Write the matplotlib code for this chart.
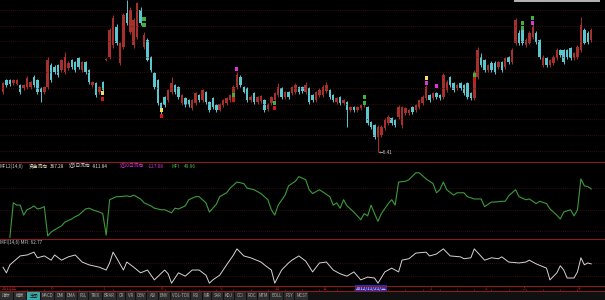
import numpy as np
import matplotlib
matplotlib.use("Agg")
import matplotlib.pyplot as plt
from matplotlib.lines import Line2D
from matplotlib.patches import Rectangle

plt.rcParams['font.family'] = ['Noto Sans CJK SC', 'DejaVu Sans']

# daily candles (price)
opens = [7.61, 7.85, 7.85, 7.79, 7.78, 7.75, 7.69, 7.71, 7.71, 7.91, 7.85, 7.69, 7.61, 7.71, 8.15, 8.11, 8.15, 8.05, 8.01, 8.09,
         8.25, 8.21, 8.29, 8.05, 8.21, 8.05, 7.75, 7.79, 7.61, 7.81, 8.25, 8.31, 8.55, 8.91, 8.19, 8.51, 9.19, 8.81, 8.55, 8.71,
         9.25, 8.51, 8.65, 8.31, 7.99, 7.85, 7.39, 7.51, 7.45, 7.61, 7.75, 7.71, 7.39, 7.49, 7.45, 7.29, 7.39, 7.55, 7.45, 7.61,
         7.41, 7.49, 7.35, 7.26, 7.35, 7.39, 7.45, 7.45, 7.71, 7.92, 7.72, 7.69, 7.45, 7.59, 7.41, 7.43, 7.45, 7.27, 7.39, 7.45,
         7.55, 7.69, 7.51, 7.61, 7.59, 7.61, 7.71, 7.71, 7.61, 7.69, 7.55, 7.45, 7.55, 7.55, 7.63, 7.65, 7.55, 7.41, 7.51, 7.39,
         7.41, 7.25, 7.31, 7.25, 7.29, 7.35, 7.31, 7.01, 6.95, 6.71, 6.75, 6.89, 6.99, 7.09, 7.05, 7.11, 6.95, 7.19, 7.19, 7.31,
         7.25, 7.31, 7.39, 7.49, 7.55, 7.49, 7.59, 7.55, 7.51, 7.65, 7.91, 7.79, 7.69, 7.79, 7.75, 7.79, 7.59, 7.49, 7.91, 8.31,
         8.25, 8.05, 8.19, 8.19, 8.11, 8.21, 8.11, 8.31, 8.21, 8.59, 8.79, 8.85, 8.55, 8.59, 8.71, 8.79, 8.65, 8.15, 8.29, 8.15,
         8.19, 8.29, 8.45, 8.45, 8.45, 8.49, 8.29, 8.31, 8.45, 8.85, 8.79, 8.65]
closes = [7.79, 7.75, 7.77, 7.85, 7.85, 7.61, 7.75, 7.89, 7.81, 7.75, 7.61, 7.61, 7.71, 8.25, 7.85, 8.01, 7.95, 8.25, 8.31, 8.19,
          8.11, 8.05, 8.11, 8.21, 8.01, 7.81, 7.81, 7.55, 7.71, 7.65, 8.27, 8.85, 9.09, 8.59, 8.59, 9.15, 8.99, 9.25, 9.05, 9.39,
          8.99, 8.75, 8.25, 8.05, 7.71, 7.39, 7.21, 7.35, 7.65, 7.79, 7.61, 7.51, 7.55, 7.35, 7.35, 7.45, 7.59, 7.45, 7.65, 7.41,
          7.25, 7.31, 7.25, 7.36, 7.45, 7.49, 7.55, 7.71, 7.95, 7.75, 7.62, 7.45, 7.51, 7.41, 7.51, 7.53, 7.25, 7.37, 7.51, 7.59,
          7.71, 7.51, 7.61, 7.51, 7.71, 7.75, 7.61, 7.63, 7.75, 7.41, 7.45, 7.61, 7.65, 7.71, 7.75, 7.51, 7.45, 7.49, 7.39, 7.45,
          7.25, 7.31, 7.25, 7.31, 7.35, 7.41, 6.99, 6.91, 6.71, 6.91, 6.91, 7.05, 7.11, 6.99, 6.95, 7.31, 7.31, 7.29, 7.25, 7.21,
          7.35, 7.45, 7.51, 7.71, 7.45, 7.59, 7.51, 7.49, 7.95, 7.81, 7.75, 7.65, 7.75, 7.69, 7.59, 7.51, 7.49, 8.01, 8.45, 8.15,
          8.05, 8.15, 8.05, 8.01, 8.21, 8.05, 8.29, 8.21, 8.45, 9.05, 8.59, 8.59, 8.65, 8.79, 8.91, 8.61, 8.31, 8.31, 8.15, 8.25,
          8.31, 8.45, 8.35, 8.21, 8.31, 8.29, 8.39, 8.51, 8.95, 8.59, 8.61, 8.85]
highs = [7.82, 7.88, 7.88, 7.88, 7.88, 7.78, 7.78, 7.93, 7.84, 7.95, 7.88, 7.72, 7.74, 8.30, 8.20, 8.14, 8.18, 8.28, 8.41, 8.22,
         8.28, 8.24, 8.32, 8.24, 8.24, 8.08, 7.84, 7.82, 7.74, 7.84, 8.29, 8.90, 9.15, 8.96, 8.62, 9.20, 9.45, 9.30, 9.10, 9.42,
         9.30, 8.80, 8.70, 8.34, 8.02, 7.88, 7.42, 7.54, 7.68, 7.92, 7.78, 7.74, 7.58, 7.52, 7.48, 7.48, 7.62, 7.58, 7.68, 7.64,
         7.43, 7.52, 7.38, 7.40, 7.48, 7.52, 7.58, 7.75, 8.02, 7.96, 7.74, 7.72, 7.55, 7.62, 7.54, 7.56, 7.48, 7.40, 7.54, 7.62,
         7.80, 7.72, 7.64, 7.64, 7.74, 7.80, 7.74, 7.74, 7.82, 7.72, 7.58, 7.64, 7.70, 7.76, 7.82, 7.68, 7.58, 7.52, 7.54, 7.48,
         7.44, 7.34, 7.34, 7.34, 7.38, 7.46, 7.34, 7.04, 6.98, 6.95, 6.96, 7.10, 7.16, 7.12, 7.08, 7.35, 7.33, 7.32, 7.28, 7.34,
         7.38, 7.48, 7.55, 7.76, 7.58, 7.62, 7.62, 7.58, 8.00, 7.86, 7.94, 7.82, 7.78, 7.82, 7.78, 7.82, 7.62, 8.06, 8.52, 8.40,
         8.28, 8.18, 8.22, 8.22, 8.24, 8.24, 8.32, 8.34, 8.50, 9.10, 8.85, 8.90, 8.70, 8.84, 8.98, 8.84, 8.68, 8.35, 8.32, 8.28,
         8.35, 8.50, 8.48, 8.48, 8.48, 8.52, 8.42, 8.55, 9.11, 8.90, 8.84, 8.90]
lows = [7.58, 7.72, 7.74, 7.76, 7.75, 7.58, 7.66, 7.68, 7.68, 7.72, 7.58, 7.41, 7.58, 7.68, 7.82, 7.98, 7.92, 8.02, 7.98, 8.06,
        8.08, 8.02, 8.08, 8.02, 7.98, 7.78, 7.72, 7.52, 7.58, 7.62, 8.23, 8.28, 8.50, 8.55, 8.15, 8.48, 8.95, 8.78, 8.50, 8.68,
        8.95, 8.48, 8.22, 8.02, 7.68, 7.36, 7.18, 7.32, 7.42, 7.58, 7.58, 7.48, 7.36, 7.32, 7.32, 7.26, 7.36, 7.42, 7.42, 7.38,
        7.22, 7.28, 7.22, 7.24, 7.32, 7.36, 7.42, 7.42, 7.68, 7.72, 7.60, 7.42, 7.42, 7.38, 7.38, 7.40, 7.22, 7.24, 7.36, 7.42,
        7.52, 7.48, 7.48, 7.48, 7.56, 7.58, 7.58, 7.60, 7.58, 7.38, 7.42, 7.42, 7.52, 7.52, 7.60, 7.48, 7.42, 7.38, 7.36, 7.36,
        6.91, 7.22, 7.22, 7.22, 7.26, 7.32, 6.96, 6.88, 6.68, 6.41, 6.72, 6.86, 6.96, 6.96, 6.92, 7.08, 6.90, 7.16, 7.16, 7.18,
        7.22, 7.28, 7.36, 7.46, 7.42, 7.46, 7.48, 7.46, 7.48, 7.62, 7.72, 7.62, 7.66, 7.66, 7.56, 7.48, 7.46, 7.46, 7.88, 8.12,
        8.02, 8.02, 8.02, 7.98, 8.08, 8.02, 8.08, 8.18, 8.18, 8.55, 8.55, 8.55, 8.52, 8.56, 8.68, 8.58, 8.28, 8.12, 8.12, 8.12,
        8.16, 8.26, 8.32, 8.18, 8.28, 8.26, 8.26, 8.28, 8.42, 8.56, 8.58, 8.62]

grid_prices = [9.25, 8.93, 8.63, 8.31, 8.01, 7.69, 7.37, 7.07, 6.75, 6.43]

# signal dots on the main chart
sig_day = [29, 29, 46, 46, 41, 41, 67, 67, 68, 79, 79, 105, 105, 123, 123, 126, 137, 137, 151, 151, 154, 154]
sig_price = [7.59, 7.47, 7.25, 7.13, 9.07, 8.95, 7.55, 7.45, 8.07, 7.39, 7.29, 7.51, 7.39, 7.89, 7.79, 7.73,
             7.95, 7.85, 8.99, 8.89, 9.09, 8.99]
sig_kind = ['y', 'r', 'y', 'r', 'g', 'g', 'g', 'r', 'm', 'g', 'r', 'g', 'g', 'y', 'm', 'm', 'g', 'r', 'g', 'g', 'g', 'm']

# MFL2 indicator
mfl_day = [2, 3, 4, 5, 6, 7, 8, 9, 10, 11, 12, 13, 14, 15, 17, 18, 20, 21, 22, 24, 25, 26, 28, 29, 30, 31, 33, 34, 36, 37,
           38, 40, 41, 43, 44, 46, 47, 49, 50, 51, 53, 54, 56, 57, 59, 60, 62, 63, 65, 66, 68, 70, 71, 73, 75, 77, 78, 79, 80, 82,
           83, 85, 86, 88, 89, 90, 92, 93, 95, 96, 97, 98, 99, 100, 102, 103, 104, 105, 106, 107, 108, 109, 110, 112, 113, 114, 115, 117, 118, 120,
           121, 123, 124, 125, 126, 127, 128, 129, 131, 132, 134, 135, 137, 139, 140, 142, 143, 145, 146, 147, 149, 150, 152, 153, 155, 156, 158, 159, 161, 162,
           163, 165, 166, 167, 168, 169, 170, 171]
mfl_val = [2, 47, 44, 44, 31, 38, 40, 43, 39, 40, 42, 4, 9, 12, 17, 22, 26, 29, 31, 39, 40, 38, 35, 33, 5, 51, 55, 55, 56, 55,
           57, 52, 47, 43, 40, 38, 38, 34, 40, 39, 43, 51, 55, 55, 47, 35, 45, 55, 60, 66, 74, 72, 66, 64, 59, 51, 38, 31, 44, 57,
           69, 75, 81, 77, 64, 59, 64, 61, 55, 44, 47, 40, 51, 43, 35, 30, 25, 33, 30, 44, 33, 23, 33, 46, 51, 44, 74, 75, 77, 86,
           86, 78, 75, 72, 60, 64, 74, 64, 57, 60, 60, 55, 52, 52, 42, 48, 48, 49, 49, 56, 64, 55, 51, 52, 46, 49, 46, 39, 31, 26,
           35, 38, 30, 38, 78, 69, 68, 65]
mfl_grid = [66, 38, 10]

# MFI indicator
mfi_day = [0, 1, 2, 5, 7, 9, 10, 12, 14, 15, 17, 19, 21, 23, 25, 28, 30, 31, 32, 33, 35, 36, 38, 40, 42, 44, 47, 48, 49, 51,
           53, 55, 57, 59, 60, 61, 63, 65, 67, 68, 70, 72, 75, 76, 78, 79, 81, 83, 84, 86, 88, 90, 92, 94, 96, 98, 100, 102, 104, 106,
           108, 109, 111, 113, 115, 116, 118, 120, 123, 124, 126, 128, 130, 133, 134, 136, 137, 140, 142, 144, 145, 147, 150, 152, 153, 155, 158, 159, 161, 162,
           163, 164, 166, 167, 168, 169, 170, 171]
mfi_val = [40, 28, 45, 64, 66, 72, 60, 64, 55, 66, 55, 62, 66, 51, 45, 40, 34, 49, 72, 60, 34, 51, 40, 28, 34, 13, 34, 26, 6, 28,
           21, 34, 34, 23, 6, 13, 23, 45, 66, 79, 64, 60, 51, 45, 34, 6, 34, 49, 55, 64, 53, 30, 49, 51, 34, 26, 21, 30, 13, 19,
           17, 6, 30, 38, 30, 55, 58, 70, 72, 64, 68, 79, 64, 62, 58, 60, 79, 55, 60, 58, 62, 51, 49, 51, 55, 47, 38, 13, 28, 43,
           34, 17, 17, 30, 60, 45, 49, 47]
mfi_grid = [49, 21]

# date axis
month_days = [14, 29, 46, 63, 79, 93, 124, 140, 151, 167]
month_labels = ['6', '7', '8', '9', '10', '11', '1', '2', '3', '4']
cursor_day = 107
cursor_label = '2012/11/21/三'

tab_labels = ['指标', '模板', '主图', 'MACD', 'DMI', 'DMA', 'FSL', 'TRIX', 'BRAR', 'CR', 'VR', 'OBV', 'ASI', 'EMV',
              'VOL-TDX', 'RSI', 'WR', 'SAR', 'KDJ', 'CCI', 'ROC', 'MTM', 'BOLL', 'PSY', 'MCST']

UP = '#a8302c'
DOWN = '#5cc6cf'
GRID = '#4e0f0f'
SEP = '#8c1c1c'
W, H = 605, 300
XL = (-0.87, 175.0)

fig = plt.figure(figsize=(6.05, 3.0), dpi=100, facecolor='black')

def panel(top, bottom):
    ax = fig.add_axes([0, 1 - bottom / H, 1, (bottom - top) / H])
    ax.set_facecolor('black')
    ax.set_xlim(*XL)
    ax.axis('off')
    return ax

# ---- main candle chart
ax1 = panel(0, 162)
ax1.set_ylim(6.21, 9.45)
ax1.hlines(grid_prices, XL[0], XL[1], colors=GRID, linestyles=(0, (1, 1.5)), linewidth=0.6)
o = np.array(opens)
c = np.array(closes)
days = np.arange(len(o))
col = np.where(c >= o, UP, DOWN)
ax1.vlines(days, lows, highs, colors=col, linewidth=0.7)
ax1.bar(days, np.maximum(np.abs(c - o), 0.02), bottom=np.minimum(o, c), width=0.72, color=col, linewidth=0)
kind_color = {'y': '#f0e060', 'r': '#d01818', 'g': '#3cb43c', 'm': '#e030e0'}
ax1.scatter(sig_day, sig_price, c=[kind_color[k] for k in sig_kind], marker='s', s=5, linewidths=0, zorder=3)
low_i = int(np.argmin(lows))
ax1.text(low_i + 0.2, lows[low_i], '←%.2f' % lows[low_i], color='#c8c8c8', fontsize=3.4, va='center', ha='left')
ax1.add_patch(Rectangle((148.5, 9.415), 25, 0.04, color='#b0b0b0', lw=0))

# ---- MFL2 panel
ax2 = panel(162, 239)
ax2.set_ylim(0, 100)
ax2.hlines(mfl_grid, XL[0], XL[1], colors=GRID, linestyles=(0, (1, 1.5)), linewidth=0.6)
ax2.plot(mfl_day, mfl_val, color='#3c9c3c', linewidth=0.8)
hdr = [(0, 'MFL2(14,6)', '#c8c8c8'), (29, '资金流向', '#e6e6c8'), (50, '367.28', '#e6e6c8'),
       (69, '近5日流向', '#d8d8d8'), (92, '-911.84', '#d8d8d8'),
       (120, '近10日流向', '#d838d8'), (148, '-127.08', '#d838d8'),
       (172, 'MFI', '#44c044'), (184, '49.96', '#44c044')]
for xp, s, cc in hdr:
    fig.text(xp / W, 1 - 166 / H, s, color=cc, fontsize=3.4, va='center', ha='left')

# ---- MFI panel
ax3 = panel(239, 286)
ax3.set_ylim(0, 100)
ax3.hlines(mfi_grid, XL[0], XL[1], colors=GRID, linestyles=(0, (1, 1.5)), linewidth=0.6)
ax3.plot(mfi_day, mfi_val, color='#d4d4d4', linewidth=0.7)
fig.text(0, 1 - 242.5 / H, 'MFI(14,6) MFI: 62.77', color='#c8c8c8', fontsize=3.3, va='center', ha='left')

# separators
for yp in [162, 239, 286, 291]:
    fig.add_artist(Line2D([0, 1], [1 - yp / H] * 2, color=SEP, linewidth=0.8))

# ---- date row
axd = panel(286, 291)
axd.set_ylim(0, 1)
axd.vlines(np.arange(2, 172, 5), 0, 0.35, colors=SEP, linewidth=0.5)
axd.text(XL[0] + 0.5, 0.5, '2012年', color='#b02828', fontsize=3.4, va='center', ha='left')
for d, lab in zip(month_days, month_labels):
    axd.text(d, 0.5, lab, color='#b02828', fontsize=3.4, va='center', ha='left')
axd.text(cursor_day, 0.5, cursor_label, color='#e8e8ff', fontsize=3.4, va='center', ha='center',
         bbox=dict(facecolor='#2a2ab8', edgecolor='none', pad=0.6))

# ---- tab bar
axt = fig.add_axes([0, 0, 1, 9 / H])
axt.set_xlim(0, W)
axt.set_ylim(0, 1)
axt.axis('off')
axt.add_patch(Rectangle((0, 0), W, 1, color='#101010', lw=0))
xp = 0
for lab in tab_labels:
    cjk = not lab.isascii()
    w = (4.3 * len(lab) + 4) if cjk else (2.2 * len(lab) + 4)
    bg = '#3aa8a8' if lab == '主图' else '#2c2c2c'
    fg = '#102020' if lab == '主图' else '#a8a8a8'
    axt.add_patch(Rectangle((xp, 0.05), w, 0.9, color=bg, lw=0))
    axt.text(xp + w / 2, 0.48, lab, color=fg, fontsize=3.1, va='center', ha='center')
    xp += w + 1

fig.savefig('out.png', dpi=100, facecolor='black')
